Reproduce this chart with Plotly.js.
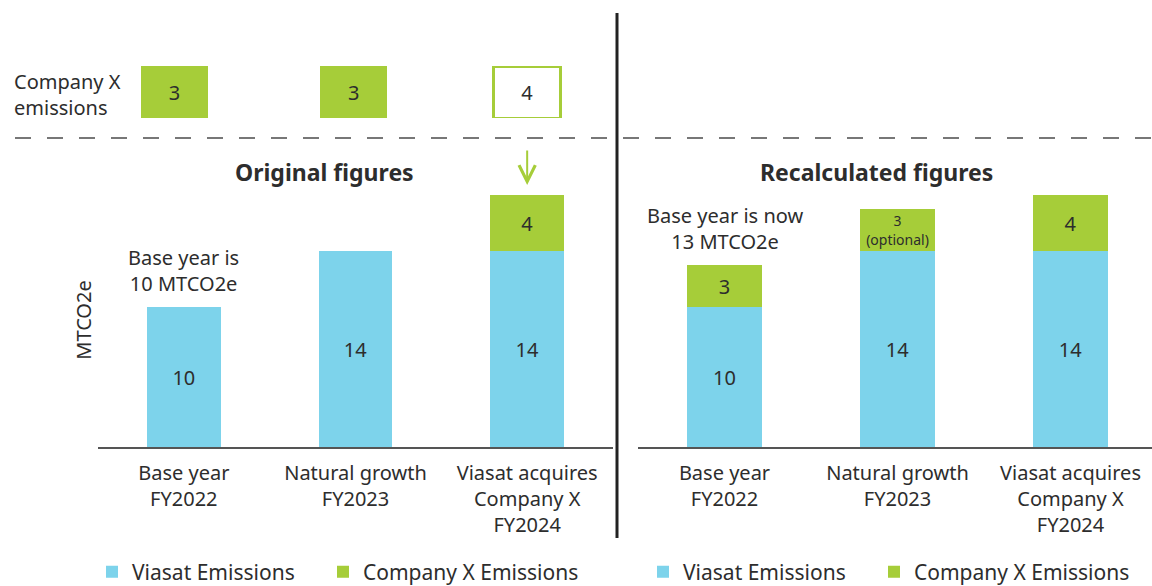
<!DOCTYPE html>
<html>
<head>
<meta charset="utf-8">
<script src="https://cdn.plot.ly/plotly-3.0.1.min.js"></script>
<style>
html,body{margin:0;padding:0;background:#fff;overflow:hidden;width:1152px;height:586px;}
#chart{width:1152px;height:586px;}
</style>
</head>
<body>
<div id="chart"></div>
<script>
// ---- data ----
const categories = ['Base year<br>FY2022', 'Natural growth<br>FY2023', 'Viasat acquires<br>Company X<br>FY2024'];
const viasatOriginal = [10, 14, 14];
const companyXOriginal = [null, null, 4];
const viasatRecalc = [10, 14, 14];
const companyXRecalc = [3, 3, 4];
const companyXEmissions = [3, 3, 4];
const companyXRecalcLabels = ['3', '3<br>(optional)', '4'];
const companyXOriginalLabels = ['', '', '4'];
const boxFilled = [true, true, false];
const seriesNames = ['Viasat Emissions', 'Company X Emissions'];
const yAxisTitle = 'MTCO2e';
const panelTitles = ['Original figures', 'Recalculated figures'];
const baseNotes = ['Base year is<br>10 MTCO2e', 'Base year is now<br>13 MTCO2e'];
const rowLabel = 'Company X<br>emissions';

// ---- style ----
const BLUE = '#7dd3eb';
const GREEN = '#a6cd39';
const TXT = '#2d2d2d';
const FONT = 'Noto Sans, sans-serif';
const FS = 20;
const W = 1152, H = 586;
const px = v => v / W;
const py = v => (H - v) / H;

const barW = 0.43;
const boxW = 0.39;
const traces = [
  {type:'bar', x:categories, y:viasatOriginal, name:seriesNames[0], xaxis:'x', yaxis:'y',
   marker:{color:BLUE}, width:barW, text:viasatOriginal.map(String), textposition:'inside',
   insidetextanchor:'middle', textfont:{size:FS, color:TXT, family:FONT}, legend:'legend', hoverinfo:'skip'},
  {type:'bar', x:categories, y:companyXOriginal, name:seriesNames[1], xaxis:'x', yaxis:'y',
   marker:{color:GREEN}, width:barW, text:companyXOriginalLabels, textposition:'inside',
   insidetextanchor:'middle', textfont:{size:FS, color:TXT, family:FONT}, legend:'legend2', hoverinfo:'skip'},
  {type:'bar', x:categories, y:viasatRecalc, name:seriesNames[0], xaxis:'x2', yaxis:'y',
   marker:{color:BLUE}, width:barW, text:viasatRecalc.map(String), textposition:'inside',
   insidetextanchor:'middle', textfont:{size:FS, color:TXT, family:FONT}, legend:'legend3', hoverinfo:'skip'},
  {type:'bar', x:categories, y:companyXRecalc, name:seriesNames[1], xaxis:'x2', yaxis:'y',
   marker:{color:GREEN}, width:barW, text:companyXRecalcLabels, textposition:'inside',
   insidetextanchor:'middle', constraintext:'none',
   textfont:{size:[FS, 14, FS], color:TXT, family:FONT}, legend:'legend4', hoverinfo:'skip'},
  // top row boxes
  {type:'bar', x:categories, y:companyXEmissions.map(() => 1), xaxis:'x', yaxis:'y3',
   width:boxW, offset:[-boxW/2 - 0.055, -boxW/2 - 0.01, -boxW/2], showlegend:false, hoverinfo:'skip',
   marker:{color:boxFilled.map(f => f ? GREEN : '#ffffff'),
           line:{color:GREEN, width:boxFilled.map(f => f ? 0 : 3)}},
   text:companyXEmissions.map(String), textposition:'inside', insidetextanchor:'middle',
   textfont:{size:FS, color:TXT, family:FONT}}
];

const xCommon = {
  type:'category', showgrid:false, zeroline:false, showline:true, linecolor:'#555', linewidth:2,
  ticks:'', ticklabelstandoff:7, tickfont:{size:FS, color:TXT, family:FONT}, fixedrange:true
};

const legendCommon = {orientation:'h', xanchor:'left', y:py(572), yanchor:'middle',
  font:{size:21, color:TXT, family:FONT}, bgcolor:'rgba(0,0,0,0)'};

const layout = {
  width:W, height:H,
  margin:{l:0, r:0, t:0, b:0, autoexpand:false},
  paper_bgcolor:'#fff', plot_bgcolor:'#fff',
  barmode:'stack',
  font:{family:FONT, color:TXT},
  xaxis:Object.assign({}, xCommon, {domain:[px(98), px(613)], range:[-0.5, 2.5], anchor:'y'}),
  xaxis2:Object.assign({}, xCommon, {domain:[px(638), 1], range:[-0.5, -0.5 + 514/173], anchor:'y'}),
  yaxis:{domain:[py(447), py(193)], range:[0, 254/14], showgrid:false, zeroline:false, showline:false,
         showticklabels:false, ticks:'', anchor:'x',
         title:{text:yAxisTitle, font:{size:FS, color:TXT, family:FONT}, standoff:0}},
  yaxis3:{domain:[py(118), py(66)], range:[0, 1], showgrid:false, zeroline:false, showline:false,
          showticklabels:false, anchor:'x'},
  showlegend:true,
  legend:Object.assign({}, legendCommon, {x:px(92)}),
  legend2:Object.assign({}, legendCommon, {x:px(323)}),
  legend3:Object.assign({}, legendCommon, {x:px(643)}),
  legend4:Object.assign({}, legendCommon, {x:px(874)}),
  shapes:[
    {type:'line', xref:'paper', yref:'paper', x0:px(617), x1:px(617), y0:py(13), y1:py(538),
     line:{color:'#222', width:3}},
    {type:'line', xref:'paper', yref:'paper', x0:px(15), x1:1, y0:py(138), y1:py(138),
     line:{color:'#777', width:2, dash:'16px,16px'}}
  ],
  annotations:[
    {xref:'paper', yref:'paper', x:px(324), y:py(172), text:'<b>'+panelTitles[0]+'</b>', showarrow:false,
     font:{size:23, color:TXT, family:FONT}, xanchor:'center', yanchor:'middle'},
    {xref:'paper', yref:'paper', x:px(876), y:py(172), text:'<b>'+panelTitles[1]+'</b>', showarrow:false,
     font:{size:23, color:TXT, family:FONT}, xanchor:'center', yanchor:'middle'},
    {xref:'x', yref:'y', x:categories[0], y:viasatOriginal[0], text:baseNotes[0], showarrow:false,
     yanchor:'bottom', yshift:8, font:{size:FS, color:TXT, family:FONT}},
    {xref:'x2', yref:'y', x:categories[0], y:viasatRecalc[0] + companyXRecalc[0], text:baseNotes[1], showarrow:false,
     yanchor:'bottom', yshift:8, font:{size:FS, color:TXT, family:FONT}},
    {xref:'paper', yref:'paper', x:px(12), y:py(94), text:rowLabel, showarrow:false, align:'left',
     xanchor:'left', yanchor:'middle', font:{size:FS, color:TXT, family:FONT}},
    {xref:'x', yref:'y', x:categories[2], y:viasatOriginal[2] + companyXOriginal[2], text:'',
     showarrow:true, arrowhead:5, arrowsize:1.6, arrowwidth:2, arrowcolor:GREEN,
     ax:0, ay:-46, standoff:10}
  ]
};

Plotly.newPlot('chart', traces, layout, {displayModeBar:false, staticPlot:true});
</script>
</body>
</html>
